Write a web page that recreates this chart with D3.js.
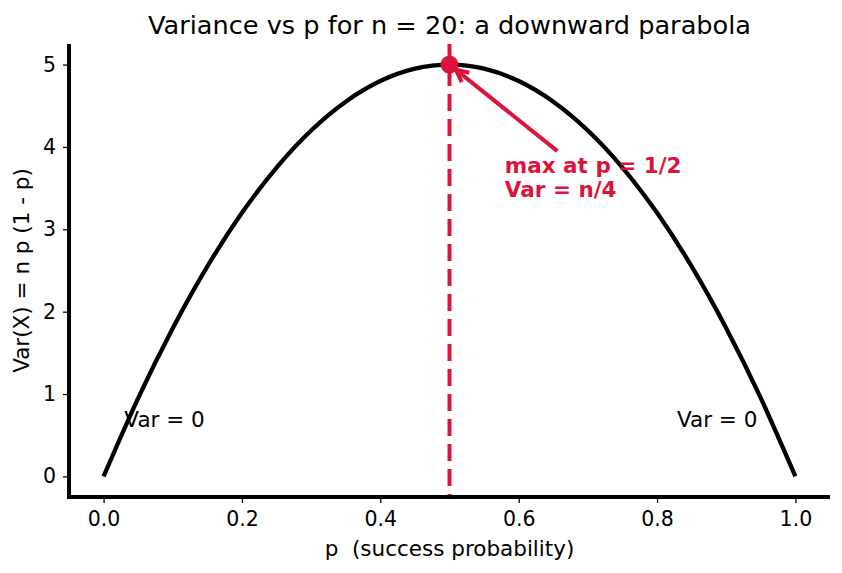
<!DOCTYPE html>
<html>
<head>
<meta charset="utf-8">
<script src="https://cdn.jsdelivr.net/npm/d3@7"></script>
<style>
  body { margin: 0; background: #fff; }
  text { font-family: "DejaVu Sans", sans-serif; white-space: pre; }
</style>
</head>
<body>
<div id="chart"></div>
<script>
// values (n = 20)
const pValues = [0, 0.05, 0.1, 0.15, 0.2, 0.25, 0.3, 0.35, 0.4, 0.45, 0.5,
                 0.55, 0.6, 0.65, 0.7, 0.75, 0.8, 0.85, 0.9, 0.95, 1.0];
const varValues = [0, 0.95, 1.8, 2.55, 3.2, 3.75, 4.2, 4.55, 4.8, 4.95, 5.0,
                   4.95, 4.8, 4.55, 4.2, 3.75, 3.2, 2.55, 1.8, 0.95, 0];
const xTicks = [0, 0.2, 0.4, 0.6, 0.8, 1.0];
const yTicks = [0, 1, 2, 3, 4, 5];
const peak = { p: 0.5, v: 5 };
const arrowFrom = { p: 0.656, v: 3.95 };
const noteLines = ["max at p = 1/2", "Var = n/4"];

const width = 842, height = 573;
const margin = { top: 44, right: 12, bottom: 76, left: 69 };
const red = "#dc143c";
const tickFs = "20.5px";
const fs = "21.5px";

const svg = d3.select("#chart").append("svg")
    .attr("width", width)
    .attr("height", height);

const x = d3.scaleLinear().domain([-0.05, 1.05]).range([margin.left, width - margin.right]);
const y = d3.scaleLinear().domain([-0.25, 5.25]).range([height - margin.bottom, margin.top]);

const points = pValues.map((p, i) => ({ p: p, v: varValues[i] }));

// axes
const xAxis = svg.append("g")
    .attr("transform", `translate(0,${height - margin.bottom})`)
    .call(d3.axisBottom(x).tickValues(xTicks).tickFormat(d3.format(".1f")).tickSize(6).tickPadding(6));
const yAxis = svg.append("g")
    .attr("transform", `translate(${margin.left},0)`)
    .call(d3.axisLeft(y).tickValues(yTicks).tickFormat(d3.format("d")).tickSize(6).tickPadding(7));

[xAxis, yAxis].forEach(g => {
    g.select(".domain").remove();
    g.selectAll(".tick line").attr("stroke", "#000").attr("stroke-width", 1.3);
    g.selectAll(".tick text").attr("fill", "#000").style("font-size", tickFs);
});
xAxis.selectAll(".tick text").attr("dy", "0.85em");

// spines
svg.append("line")
    .attr("x1", margin.left).attr("x2", margin.left)
    .attr("y1", margin.top).attr("y2", height - margin.bottom + 2)
    .attr("stroke", "#000").attr("stroke-width", 4);
svg.append("line")
    .attr("x1", margin.left - 2).attr("x2", width - margin.right)
    .attr("y1", height - margin.bottom).attr("y2", height - margin.bottom)
    .attr("stroke", "#000").attr("stroke-width", 4);

// curve
const line = d3.line()
    .x(d => x(d.p))
    .y(d => y(d.v))
    .curve(d3.curveNatural);

svg.append("path")
    .datum(points)
    .attr("d", line)
    .attr("fill", "none")
    .attr("stroke", "#000")
    .attr("stroke-width", 4.3);

// vertical dashed line at p = 1/2
svg.append("line")
    .attr("x1", x(peak.p)).attr("x2", x(peak.p))
    .attr("y1", margin.top).attr("y2", height - margin.bottom - 2)
    .attr("stroke", red).attr("stroke-width", 4)
    .attr("stroke-dasharray", "17,8");

// zero labels
svg.append("text")
    .attr("x", x(0.03)).attr("y", y(0.6))
    .style("font-size", fs)
    .text("Var = 0");
svg.append("text")
    .attr("x", x(0.945)).attr("y", y(0.6))
    .attr("text-anchor", "end")
    .style("font-size", fs)
    .text("Var = 0");

// annotation text
const note = svg.append("text")
    .attr("fill", red)
    .style("font-size", fs)
    .style("font-weight", "bold");
noteLines.forEach((t, i) => {
    note.append("tspan")
        .attr("x", x(0.58))
        .attr("y", y(3.39) - (noteLines.length - 1 - i) * 24)
        .text(t);
});

// arrow
const x0 = x(arrowFrom.p), y0 = y(arrowFrom.v);
const x1 = x(peak.p), y1 = y(peak.v);
const ang = Math.atan2(y1 - y0, x1 - x0);
const tipX = x1 - Math.cos(ang) * 8, tipY = y1 - Math.sin(ang) * 8;
svg.append("line")
    .attr("x1", x0).attr("y1", y0)
    .attr("x2", tipX).attr("y2", tipY)
    .attr("stroke", red).attr("stroke-width", 4);
const headLen = 14, spread = 0.45;
svg.append("path")
    .attr("d", `M${tipX - headLen * Math.cos(ang - spread)},${tipY - headLen * Math.sin(ang - spread)}` +
               `L${tipX},${tipY}` +
               `L${tipX - headLen * Math.cos(ang + spread)},${tipY - headLen * Math.sin(ang + spread)}`)
    .attr("fill", "none")
    .attr("stroke", red).attr("stroke-width", 4);

// peak marker
svg.append("circle")
    .attr("cx", x1).attr("cy", y1).attr("r", 9)
    .attr("fill", red);

// title and axis labels
svg.append("text")
    .attr("x", (margin.left + width - margin.right) / 2)
    .attr("y", 34)
    .attr("text-anchor", "middle")
    .style("font-size", "25.6px")
    .text("Variance vs p for n = 20: a downward parabola");

svg.append("text")
    .attr("x", (margin.left + width - margin.right) / 2)
    .attr("y", 556)
    .attr("text-anchor", "middle")
    .style("font-size", fs)
    .text("p  (success probability)");

svg.append("text")
    .attr("transform", `translate(29,${(margin.top + height - margin.bottom) / 2}) rotate(-90)`)
    .attr("text-anchor", "middle")
    .style("font-size", fs)
    .text("Var(X) = n p (1 - p)");
</script>
</body>
</html>
